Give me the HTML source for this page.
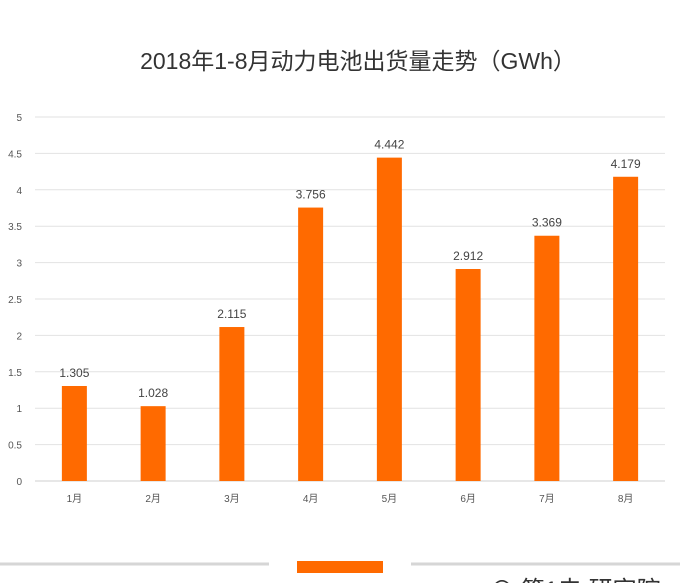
<!DOCTYPE html>
<html><head><meta charset="utf-8"><style>
body{margin:0;background:#fff;}
svg{display:block;font-family:"Liberation Sans","Noto Sans CJK SC",sans-serif;}
</style></head><body>
<svg id="c" width="680" height="583">
<text x="358" y="69" text-anchor="middle" font-size="23" fill="#333">2018年1-8月动力电池出货量走势（GWh）</text>
<g id="grid"></g><g id="bars"></g>
<line x1="0" y1="564" x2="269" y2="564" stroke="#d6d6d6" stroke-width="3"/>
<line x1="411" y1="564" x2="680" y2="564" stroke="#d6d6d6" stroke-width="3"/>
<rect x="297" y="561" width="86" height="12" fill="#ff6a00"/>
<text x="490" y="598" font-size="24" fill="#333">⊖ 第1电 研究院</text>
</svg>
<script>
const categories=["1月","2月","3月","4月","5月","6月","7月","8月"];
const values=[1.305,1.028,2.115,3.756,4.442,2.912,3.369,4.179];
const labels=["1.305","1.028","2.115","3.756","4.442","2.912","3.369","4.179"];
const ticks=[0,0.5,1,1.5,2,2.5,3,3.5,4,4.5,5];
const ns="http://www.w3.org/2000/svg";
const y0=481,y1=117,x0=35,x1=665,yMax=5;
const y=v=>y0-(v/yMax)*(y0-y1);
const step=(x1-x0)/categories.length;
const xc=i=>x0+step*(i+0.5);
function mk(t,a,p){const e=document.createElementNS(ns,t);for(const k in a)e.setAttribute(k,a[k]);p.appendChild(e);return e;}
const g=document.getElementById('grid'),b=document.getElementById('bars');
ticks.forEach(t=>{
 const l=mk('line',{x1:x0,x2:x1,y1:y(t),y2:y(t),stroke:t===0?'#cfcfcf':'#e2e2e2','stroke-width':1},g);
 
 
 const tx=mk('text',{x:22,y:y(t)+4,'text-anchor':'end','font-size':10,fill:'#555'},g);
 tx.textContent=String(t);
 
 
});
categories.forEach((c,i)=>{
 const r=mk('rect',{x:xc(i)-12.5,y:y(values[i]),width:25,height:y0-y(values[i]),fill:'#ff6a00'},b);
 
 
 const v=mk('text',{x:xc(i),y:y(values[i])-9,'text-anchor':'middle','font-size':12,fill:'#444'},b);
 v.textContent=labels[i];
 
 
 const xl=mk('text',{x:xc(i),y:502,'text-anchor':'middle','font-size':10,fill:'#555'},b);
 xl.textContent=c;
 
 
});
</script>
</body></html>
